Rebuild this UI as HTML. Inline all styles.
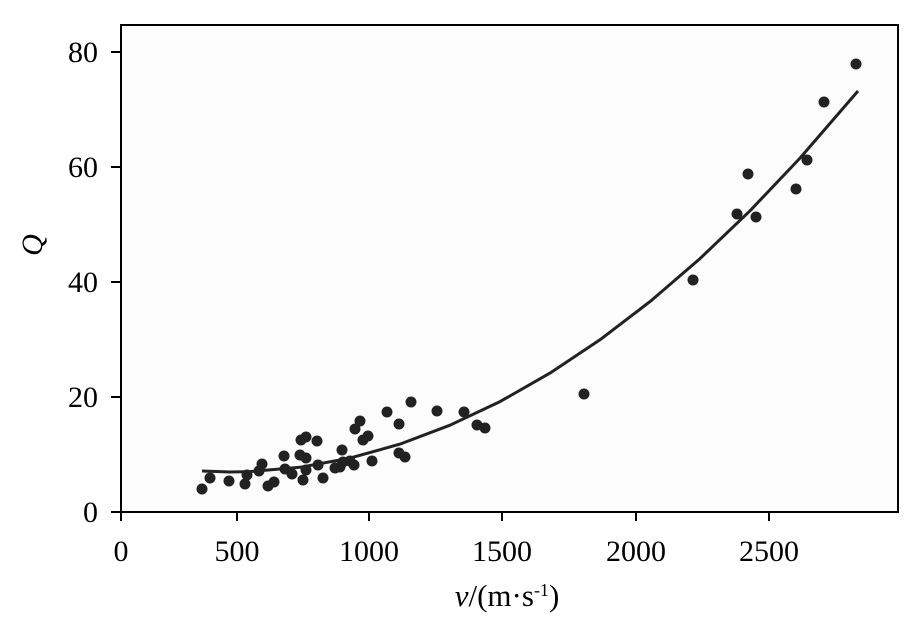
<!DOCTYPE html>
<html><head><meta charset="utf-8"><style>body{margin:0;background:#fff}svg{display:block}</style></head><body>
<svg width="921" height="621" viewBox="0 0 921 621" xmlns="http://www.w3.org/2000/svg" font-family="Liberation Serif, serif">
<rect width="921" height="621" fill="#fff"/>
<rect x="121" y="25" width="777" height="487" fill="#fcfcfc" stroke="#000" stroke-width="2"/>
<g stroke="#000" stroke-width="2">
<line x1="111" y1="52" x2="121" y2="52"/><line x1="111" y1="167" x2="121" y2="167"/><line x1="111" y1="282" x2="121" y2="282"/><line x1="111" y1="397" x2="121" y2="397"/><line x1="111" y1="512" x2="121" y2="512"/>
<line x1="121" y1="512" x2="121" y2="521"/><line x1="237" y1="512" x2="237" y2="521"/><line x1="369" y1="512" x2="369" y2="521"/><line x1="502" y1="512" x2="502" y2="521"/><line x1="636" y1="512" x2="636" y2="521"/><line x1="769" y1="512" x2="769" y2="521"/>
</g>
<g font-size="30" text-anchor="end" fill="#000">
<text x="98" y="62">80</text><text x="98" y="177">60</text><text x="98" y="292">40</text><text x="98" y="407">20</text><text x="98" y="522">0</text>
</g>
<g font-size="30" text-anchor="middle" fill="#000">
<text x="121" y="561">0</text><text x="237" y="561">500</text><text x="369" y="561">1000</text><text x="502" y="561">1500</text><text x="636" y="561">2000</text><text x="769" y="561">2500</text>
<text x="507" y="606" font-size="31"><tspan font-style="italic">v</tspan>/(m·s<tspan font-size="18" dy="-10">-1</tspan><tspan dy="10">)</tspan></text>
</g>
<text x="42" y="245" font-size="30" font-style="italic" text-anchor="middle" transform="rotate(-90 42 245)">Q</text>
<polyline points="202,471 230,472 250,471.6 300,467.3 350,458.1 400,444.1 450,425.2 500,401.6 550,373.1 600,339.8 650,301.6 700,258.6 750,210.8 800,158.1 858,91" fill="none" stroke="#222" stroke-width="3" stroke-linejoin="round"/>
<g fill="#222">
<circle cx="202" cy="489" r="5.5"/><circle cx="210" cy="478" r="5.5"/><circle cx="229" cy="481" r="5.5"/><circle cx="245" cy="484" r="5.5"/><circle cx="247" cy="475" r="5.5"/><circle cx="259" cy="471" r="5.5"/><circle cx="262" cy="464" r="5.5"/><circle cx="268" cy="486" r="5.5"/><circle cx="274" cy="482" r="5.5"/><circle cx="284" cy="456" r="5.5"/><circle cx="285" cy="469" r="5.5"/><circle cx="292" cy="474" r="5.5"/><circle cx="300" cy="455" r="5.5"/><circle cx="301" cy="440" r="5.5"/><circle cx="306" cy="437" r="5.5"/><circle cx="303" cy="480" r="5.5"/><circle cx="306" cy="458" r="5.5"/><circle cx="306" cy="470" r="5.5"/><circle cx="317" cy="441" r="5.5"/><circle cx="318" cy="465" r="5.5"/><circle cx="323" cy="478" r="5.5"/><circle cx="335" cy="468" r="5.5"/><circle cx="340" cy="467" r="5.5"/><circle cx="342" cy="450" r="5.5"/><circle cx="343" cy="462" r="5.5"/><circle cx="350" cy="461" r="5.5"/><circle cx="354" cy="465" r="5.5"/><circle cx="355" cy="429" r="5.5"/><circle cx="360" cy="421" r="5.5"/><circle cx="363" cy="440" r="5.5"/><circle cx="368" cy="436" r="5.5"/><circle cx="372" cy="461" r="5.5"/><circle cx="387" cy="412" r="5.5"/><circle cx="399" cy="424" r="5.5"/><circle cx="399" cy="453" r="5.5"/><circle cx="405" cy="457" r="5.5"/><circle cx="411" cy="402" r="5.5"/><circle cx="437" cy="411" r="5.5"/><circle cx="464" cy="412" r="5.5"/><circle cx="477" cy="425" r="5.5"/><circle cx="485" cy="428" r="5.5"/><circle cx="584" cy="394" r="5.5"/><circle cx="693" cy="280" r="5.5"/><circle cx="737" cy="214" r="5.5"/><circle cx="748" cy="174" r="5.5"/><circle cx="756" cy="217" r="5.5"/><circle cx="796" cy="189" r="5.5"/><circle cx="807" cy="160" r="5.5"/><circle cx="824" cy="102" r="5.5"/><circle cx="856" cy="64" r="5.5"/>
</g>
</svg>
</body></html>
